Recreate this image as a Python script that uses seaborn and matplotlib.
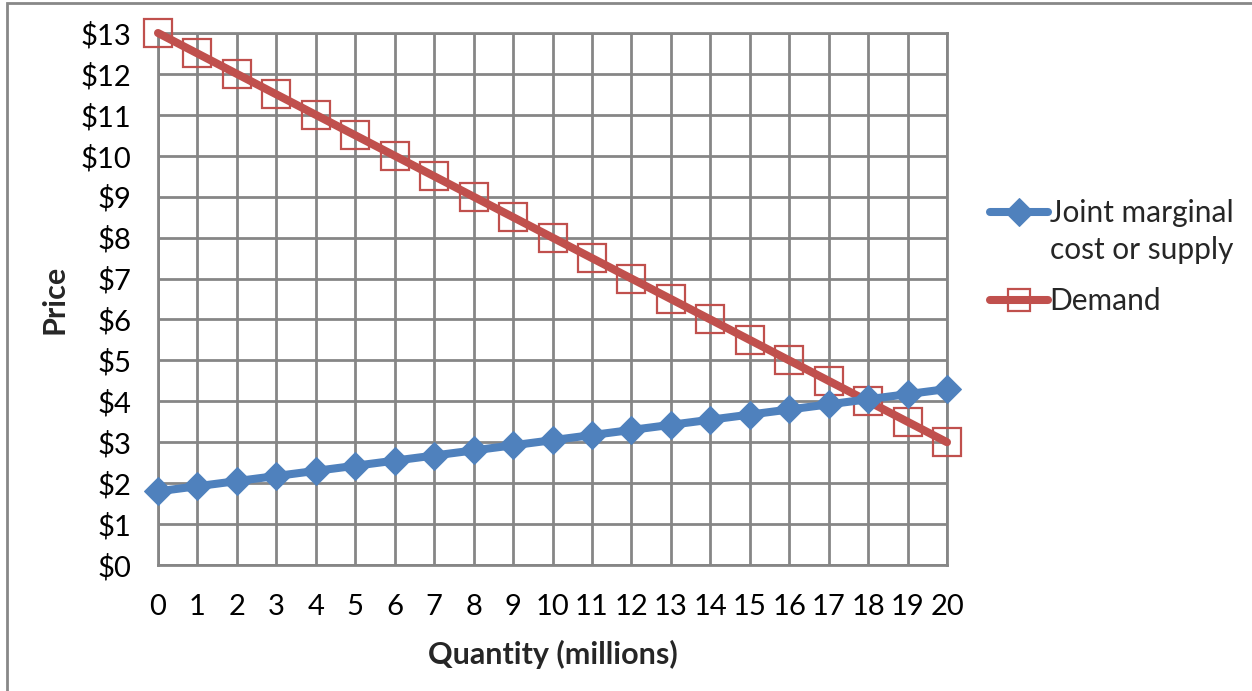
import matplotlib
matplotlib.use("Agg")
import matplotlib.pyplot as plt
import seaborn as sns
import pandas as pd
from matplotlib.patches import Rectangle
from matplotlib.lines import Line2D
from matplotlib.ticker import FuncFormatter

quantity = [0, 1, 2, 3, 4, 5, 6, 7, 8, 9, 10, 11, 12, 13, 14, 15, 16, 17, 18, 19, 20]
supply = [1.8, 1.925, 2.05, 2.175, 2.3, 2.425, 2.55, 2.675, 2.8, 2.925, 3.05,
          3.175, 3.3, 3.425, 3.55, 3.675, 3.8, 3.925, 4.05, 4.175, 4.3]
demand = [13, 12.5, 12, 11.5, 11, 10.5, 10, 9.5, 9, 8.5, 8,
          7.5, 7, 6.5, 6, 5.5, 5, 4.5, 4, 3.5, 3]
supply_label_lines = ["Joint marginal", "cost or supply"]
demand_label = "Demand"

sns.set_theme(style="white")
plt.rcParams['font.family'] = ['Lato', 'DejaVu Sans']

fig = plt.figure(figsize=(12.52, 6.91), dpi=100)
ax = fig.add_axes([158/1252, 1-565/691, (947-158)/1252, (565-33)/691])

df_s = pd.DataFrame({"q": quantity, "p": supply})
df_d = pd.DataFrame({"q": quantity, "p": demand})

blue = "#4F81BD"
red = "#C0504D"
sns.lineplot(data=df_s, x="q", y="p", ax=ax, color=blue, lw=5.8, marker="D",
             markersize=14, markeredgecolor=blue, markerfacecolor=blue,
             label=supply_label_lines[0], clip_on=False, zorder=4)
sns.lineplot(data=df_d, x="q", y="p", ax=ax, color=red, lw=5.8, marker="s",
             markersize=20, markeredgecolor=red, markerfacecolor="none",
             markeredgewidth=1.6, label=demand_label, clip_on=False, zorder=3)

ax.set_xlim(0, 20)
ax.set_ylim(0, 13)
ax.set_xticks(quantity)
ax.set_yticks(range(0, 14))
ax.yaxis.set_major_formatter(FuncFormatter(lambda v, p: f"${int(v)}"))
ax.grid(True, color="#868686", lw=2)
ax.set_axisbelow(True)
for s in ax.spines.values():
    s.set_visible(True)
    s.set_color("#868686")
    s.set_linewidth(2)
ax.tick_params(axis="both", which="major", length=8, width=2, color="#868686",
               labelsize=21, labelcolor="black", direction="out")
ax.tick_params(axis="x", pad=13)
ax.tick_params(axis="y", pad=11)
ax.set_xlabel("Quantity (millions)", fontsize=22, fontweight="bold", va="center")
ax.set_ylabel("Price", fontsize=22, fontweight="bold", va="center")
ax.xaxis.set_label_coords(0.5, (565-654)/532)
ax.yaxis.set_label_coords((55-158)/789, 0.5)

handles, labels = ax.get_legend_handles_labels()
if ax.legend_:
    ax.legend_.remove()
h_s = handles[labels.index(supply_label_lines[0])]
h_d = handles[labels.index(demand_label)]
blank = Line2D([], [], alpha=0)

leg1 = ax.legend([h_s, blank], supply_label_lines, loc="upper left",
                 bbox_to_anchor=(990/1252, 1-199/691), bbox_transform=fig.transFigure,
                 frameon=False, fontsize=21.5, handlelength=1.95, handletextpad=0.05,
                 labelspacing=0.3, borderaxespad=0, borderpad=0)
ax.add_artist(leg1)
leg2 = ax.legend([h_d], [demand_label], loc="upper left",
                 bbox_to_anchor=(990/1252, 1-287/691), bbox_transform=fig.transFigure,
                 frameon=False, fontsize=21.5, handlelength=1.95, handletextpad=0.05,
                 borderaxespad=0, borderpad=0, markerscale=0.8)

fig.patches.append(Rectangle((7/1252, -0.05), 1.2, 1.05 - 3/691, transform=fig.transFigure,
                             fill=False, edgecolor="#888888", lw=2, zorder=0))

fig.savefig("out.png", dpi=100)
